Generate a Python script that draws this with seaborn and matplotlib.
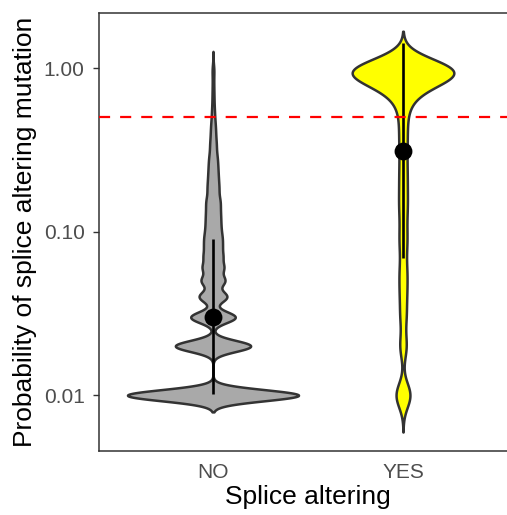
import numpy as np
import pandas as pd
import matplotlib
matplotlib.use("Agg")
import matplotlib.pyplot as plt
from matplotlib.ticker import NullLocator
import seaborn as sns

# ---------------- data ----------------
categories = ["NO", "YES"]

no_values = [0.01, 0.02, 0.03, 0.04, 0.05, 0.06, 0.07, 0.08, 0.09,
             0.10, 0.11, 0.12, 0.13, 0.14, 0.15, 0.16, 0.18, 0.20, 0.22,
             0.24, 0.26, 0.28, 0.30, 0.33, 0.36, 0.40, 0.44, 0.48, 0.53,
             0.58, 0.64, 0.70, 0.77, 0.85, 0.93, 1.00]
no_counts = [1000, 440, 260, 160, 130, 107, 86, 70, 65,
             50, 43, 39, 35, 31, 28, 37, 42, 34, 29,
             25, 22, 19, 18, 19, 18, 17, 13, 11, 9,
             7, 6, 5, 5, 4, 4, 6]

yes_values = [0.01, 0.02, 0.03, 0.04, 0.05, 0.06, 0.08, 0.10, 0.13,
              0.16, 0.20, 0.25, 0.32, 0.40, 0.50, 0.60, 0.65, 0.70,
              0.75, 0.80, 0.85, 0.90, 0.95, 1.00]
yes_counts = [34, 15, 12, 11, 9, 10, 11, 11, 11,
              11, 11, 11, 11, 11, 11, 8, 9, 11,
              14, 20, 30, 40, 50, 120]

point_values = [0.030, 0.312]     # summary point per category
range_low = [0.0102, 0.0687]      # lower end of the vertical line
range_high = [0.0898, 1.42]       # upper end of the vertical line
threshold = 0.5

ytick_values = [0.01, 0.10, 1.00]
ytick_labels = ["0.01", "0.10", "1.00"]

# ---------------- styling ----------------
fill_colors = {"NO": "#A9A9A9", "YES": "#FFFF00"}
bandwidth_log10 = {"NO": 0.034, "YES": 0.075}
violin_width = {"NO": 0.90, "YES": 0.535}

sns.set_theme(style="white")
plt.rcParams["font.family"] = ["Liberation Sans", "DejaVu Sans"]

df = pd.concat([
    pd.DataFrame({"group": "NO", "prob": np.repeat(no_values, no_counts)}),
    pd.DataFrame({"group": "YES", "prob": np.repeat(yes_values, yes_counts)}),
], ignore_index=True)

W, H = 507, 515
fig = plt.figure(figsize=(W / 100, H / 100), dpi=100)
ax = fig.add_axes([99 / W, 1 - 451 / H, (517 - 99) / W, (451 - 13) / H])

for g in categories:
    sub = df[df["group"] == g]
    bw = bandwidth_log10[g] / np.std(np.log10(sub["prob"].to_numpy()), ddof=1)
    sns.violinplot(data=sub, x="group", y="prob", order=categories,
                   color=fill_colors[g], saturation=1, inner=None,
                   cut=3, bw_method=bw, gridsize=1500,
                   width=violin_width[g], density_norm="area",
                   linewidth=1.8, linecolor="#333333",
                   log_scale=True, ax=ax)

xpos = np.arange(len(categories))
ax.vlines(xpos, range_low, range_high, color="black", linewidth=1.9, zorder=4)
ax.scatter(xpos, point_values, s=165, color="black", zorder=5, linewidths=0)
ax.axhline(threshold, color="#FF0000", linewidth=1.6, dashes=(5, 4.5), zorder=6)

ax.set_yscale("log")
ax.set_ylim(0.00456, 2.17)
ax.set_xlim(-0.6, 1.6)
ax.set_yticks(ytick_values)
ax.set_yticklabels(ytick_labels)
ax.yaxis.set_minor_locator(NullLocator())
ax.set_xticks(xpos)
ax.set_xticklabels(categories)

ax.tick_params(axis="y", left=True, length=4.3, width=1.0, color="#333333",
               labelcolor="#4D4D4D", labelsize=15, pad=6)
ax.tick_params(axis="x", bottom=True, length=0, labelcolor="#4D4D4D",
               labelsize=15, pad=8.5)

for side in ["left", "right", "top", "bottom"]:
    ax.spines[side].set_visible(True)
    ax.spines[side].set_color("#333333")
    ax.spines[side].set_linewidth(1.1)
ax.set_facecolor("white")
ax.grid(False)

ax.set_xlabel("Splice altering", fontsize=19, color="black", labelpad=2.2)
ax.set_ylabel("Probability of splice altering mutation", fontsize=19,
              color="black", labelpad=5)

fig.savefig("out.png", dpi=100, facecolor="white")
